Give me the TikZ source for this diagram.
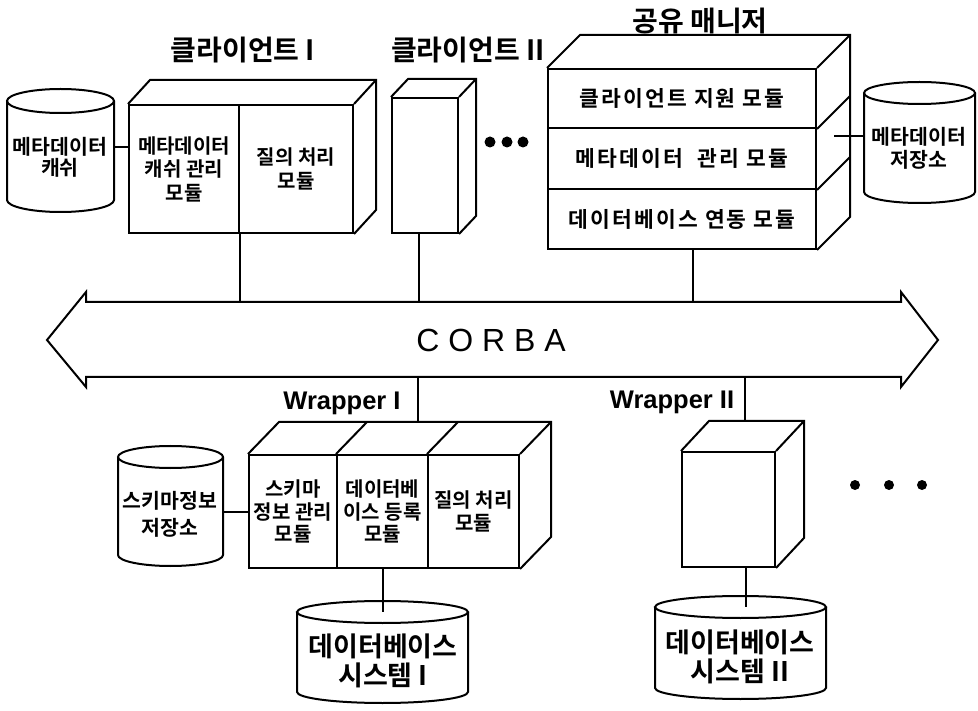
\documentclass[tikz,border=0pt]{standalone}
\usepackage{fontspec}
\newfontfamily\kr{Noto Sans CJK KR Bold}
\newfontfamily\krsp{Noto Sans CJK KR Bold}[LetterSpace=10]
\newfontfamily\lat{Liberation Sans}
\usetikzlibrary{calc}
\newcommand\dbcyl[6]{%
  \draw (#2,#4) -- (#2,#5) arc[start angle=180,end angle=0,x radius={(#3-#2)/2},y radius=#6] -- (#3,#4);
  \draw ({(#2+#3)/2},#4) ellipse[x radius={(#3-#2)/2},y radius=#6];
  \coordinate (#1-l) at (#2,#4);
  \coordinate (#1-r) at (#3,#4);
  \coordinate (#1-t) at ({(#2+#3)/2},#4);
}
\begin{document}
\begin{tikzpicture}[x=1pt,y=-1pt,line width=2pt,line join=miter,
  mod/.style={draw,inner sep=0pt,align=center,font=\kr\fontsize{20}{23.5}\selectfont},
  row/.style={draw,inner sep=0pt,align=center,font=\krsp\fontsize{21.5}{24}\selectfont},
  cyltext/.style={inner sep=0pt,align=center,font=\kr\fontsize{20.5}{23}\selectfont},
  bigtext/.style={inner sep=0pt,align=center,font=\kr\fontsize{27}{29}\selectfont},
  lbl/.style={inner sep=0pt,font=\kr\fontsize{28}{30}\selectfont},
  wlbl/.style={inner sep=0pt,font=\lat\bfseries\fontsize{25.5}{28}\selectfont},
  dot/.style={fill=black,draw=none}]
\useasboundingbox (0,0) rectangle (978,711);

% ---------- Client I ----------
\node[lbl] (lc1) at (243,50) {클라이언트 I};
\node[mod,minimum width=110pt,minimum height=128pt,anchor=north west] (c1a) at (128,104) {메타데이터\\캐쉬 관리\\모듈};
\node[mod,minimum width=114pt,minimum height=128pt,anchor=north west] (c1b) at (238,104) {질의 처리\\모듈};
\draw (c1a.north west) -- ++(22,-24) -- ($(c1b.north east)+(22,-24)$) -- ($(c1b.south east)+(22,-24)$) -- (c1b.south east);
\draw (c1b.north east) -- ++(22,-24);

% metadata cache
\dbcyl{mc}{7}{114}{101}{200}{12}
\node[cyltext,font=\kr\fontsize{20.5}{21}\selectfont] (mct) at (60,157) {메타데이터\\캐쉬};
\coordinate (mclink) at (114,147);
\draw (mclink) -- (mclink -| c1a.west);

% ---------- Client II ----------
\node[lbl] (lc2) at (468,50) {클라이언트 II};
\node[draw,minimum width=66pt,minimum height=135pt,anchor=north west] (c2) at (391,97) {};
\draw (c2.north west) -- ++(17,-18) -- ($(c2.north east)+(17,-18)$) -- ($(c2.south east)+(17,-18)$) -- (c2.south east);
\draw (c2.north east) -- ++(17,-18);

% dots
\fill[dot] (490,142) circle[radius=5.5];
\fill[dot] (507,142) circle[radius=5.5];
\fill[dot] (523,142) circle[radius=5.5];

% ---------- Shared manager ----------
\node[lbl] (lmg) at (700,21) {공유 매니저};
\node[row,minimum width=268pt,minimum height=59pt,anchor=north west] (mg1) at (547,68) {클라이언트~지원~모듈};
\node[row,minimum width=268pt,minimum height=61pt,anchor=north west] (mg2) at (547,127) {메타데이터~~관리~모듈};
\node[row,minimum width=268pt,minimum height=60pt,anchor=north west] (mg3) at (547,188) {데이터베이스~연동~모듈};
\draw (mg1.north west) -- ++(33,-33) -- ($(mg1.north east)+(33,-33)$) -- ($(mg3.south east)+(33,-33)$) -- (mg3.south east);
\draw (mg1.north east) -- ++(33,-33);
\draw (mg1.south east) -- ++(33,-33);
\draw (mg2.south east) -- ++(33,-33);

% metadata store
\dbcyl{ms}{864}{975}{93}{192}{11}
\node[cyltext] (mst) at (919,148) {메타데이터\\저장소};
\coordinate (msin) at ($(mg2.east)+(17,-22)$);
\draw (msin) -- (msin -| ms-l);

% ---------- CORBA bus ----------
\draw (47,340) -- (86,292) -- (86,302) -- (901,302) -- (901,292) -- (938,340)
  -- (901,387) -- (901,377) -- (86,377) -- (86,387) -- cycle;
\node[inner sep=0pt,font=\lat\fontsize{32}{36}\selectfont] (corba) at (491,340) {C O R B A};
\coordinate (bustop) at (0,302);
\coordinate (busbot) at (0,377);

\draw (c1a.south east) -- (c1a.south east |- bustop);
\coordinate (c2out) at ($(c2.south)+(-6,0)$);
\draw (c2out) -- (c2out |- bustop);
\coordinate (mgout) at ($(mg3.south)+(11,0)$);
\draw (mgout) -- (mgout |- bustop);

% ---------- Wrapper I ----------
\node[wlbl] (lw1) at (342,403) {Wrapper I};
\node[mod,minimum width=88pt,minimum height=113pt,anchor=north west,font=\kr\fontsize{20}{22.5}\selectfont] (w1a) at (248,454) {스키마\\정보 관리\\모듈};
\node[mod,minimum width=91pt,minimum height=113pt,anchor=north west,font=\kr\fontsize{20}{22.5}\selectfont] (w1b) at (336,454) {데이터베\\이스 등록\\모듈};
\node[mod,minimum width=91pt,minimum height=113pt,anchor=north west] (w1c) at (427,454) {질의 처리\\모듈};
\draw (w1a.north west) -- ++(31,-32) -- ($(w1c.north east)+(31,-32)$) -- ($(w1c.south east)+(31,-32)$) -- (w1c.south east);
\draw (w1b.north west) -- ++(31,-32);
\draw (w1c.north west) -- ++(31,-32);
\draw (w1c.north east) -- ++(31,-32);
\coordinate (w1back) at ($(w1a.north west)+(31,-32)$);
\coordinate (w1bus) at (418,0);
\draw (w1bus |- busbot) -- (w1bus |- w1back);

% schema store
\dbcyl{sc}{118}{223}{457}{555}{11}
\node[cyltext,font=\kr\fontsize{20.5}{27}\selectfont] (sct) at (170,514) {스키마정보\\저장소};
\draw (w1a.west) -- (w1a.west -| sc-r);

% DB system I
\dbcyl{db1}{297}{468}{612}{692}{11}
\node[bigtext] (db1t) at (383,661) {데이터베이스\\시스템 I};
\draw (w1b.south) -- (w1b.south |- db1-t);

% ---------- Wrapper II ----------
\node[wlbl] (lw2) at (672,402) {Wrapper II};
\node[draw,minimum width=93pt,minimum height=115pt,anchor=north west] (w2) at (681,451) {};
\draw (w2.north west) -- ++(28,-30) -- ($(w2.north east)+(28,-30)$) -- ($(w2.south east)+(28,-30)$) -- (w2.south east);
\draw (w2.north east) -- ++(28,-30);
\coordinate (w2back) at ($(w2.north west)+(28,-30)$);
\coordinate (w2bus) at (745,0);
\draw (w2bus |- busbot) -- (w2bus |- w2back);

% DB system II
\dbcyl{db2}{655}{826}{607}{688}{11}
\node[bigtext] (db2t) at (740,657) {데이터베이스\\시스템 II};
\coordinate (w2out) at ($(w2.south)+(17.5,0)$);
\draw (w2out) -- (w2out |- db2-t);

% dots
\fill[dot] (855,485) circle[radius=5];
\fill[dot] (889,485) circle[radius=5];
\fill[dot] (922,485) circle[radius=5];
\end{tikzpicture}
\end{document}
